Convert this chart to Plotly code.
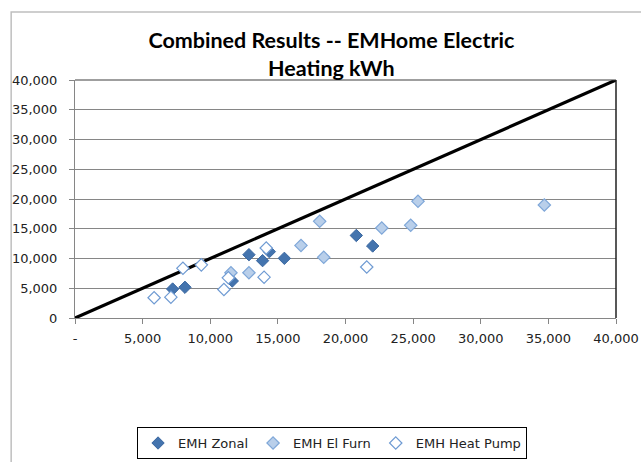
import plotly.graph_objects as go

# Data (kWh)
zonal_x = [7220, 8130, 11630, 12860, 13870, 14370, 15480, 20800, 22010]
zonal_y = [4870, 5160, 6220, 10640, 9640, 11150, 10030, 13870, 12100]

furn_x = [11530, 12860, 16710, 18090, 18390, 22680, 24820, 25360, 34700]
furn_y = [7600, 7600, 12200, 16250, 10200, 15130, 15580, 19610, 18990]

hp_x = [5850, 7090, 7980, 9340, 11010, 11340, 13980, 14140, 21570]
hp_y = [3400, 3500, 8350, 8930, 4790, 6750, 6860, 11770, 8570]

line_x = [0, 40000]
line_y = [0, 40000]

x_ticks = [0, 5000, 10000, 15000, 20000, 25000, 30000, 35000, 40000]
x_tick_text = ["-", "5,000", "10,000", "15,000", "20,000", "25,000", "30,000", "35,000", "40,000"]
y_ticks = [0, 5000, 10000, 15000, 20000, 25000, 30000, 35000, 40000]
y_tick_text = ["0", "5,000", "10,000", "15,000", "20,000", "25,000", "30,000", "35,000", "40,000"]

fig = go.Figure()

fig.add_trace(go.Scatter(x=line_x, y=line_y, mode="lines",
                         line=dict(color="black", width=3.2),
                         showlegend=False, hoverinfo="skip"))

fig.add_trace(go.Scatter(x=zonal_x, y=zonal_y, mode="markers", name="EMH Zonal",
                         marker=dict(symbol="diamond", size=9.5, color="#4474ae",
                                     line=dict(color="#3a67a0", width=1))))
fig.add_trace(go.Scatter(x=furn_x, y=furn_y, mode="markers", name="EMH El Furn",
                         marker=dict(symbol="diamond", size=9.5, color="#b9cfea",
                                     line=dict(color="#7fa7d8", width=1.2))))
fig.add_trace(go.Scatter(x=hp_x, y=hp_y, mode="markers", name="EMH Heat Pump",
                         marker=dict(symbol="diamond", size=9.5, color="white",
                                     line=dict(color="#6f9bd3", width=1.2))))

fig.update_layout(
    width=641, height=462,
    margin=dict(l=75, r=25, t=80, b=144, autoexpand=False),
    paper_bgcolor="white", plot_bgcolor="white",
    title=dict(text="<b>Combined Results -- EMHome Electric<br>Heating kWh</b>",
               x=0.517, xanchor="center", y=0.897, yanchor="top",
               font=dict(family="Lato", size=21.5, color="black")),
    font=dict(family="DejaVu Sans", size=13, color="#222"),
    legend=dict(orientation="h", xref="container", yref="container",
                x=0.518, xanchor="center", y=0.041, yanchor="middle",
                bordercolor="black", borderwidth=1, bgcolor="white",
                font=dict(family="DejaVu Sans", size=13, color="#222"),
                tracegroupgap=0),
    shapes=[
        dict(type="rect", xref="paper", yref="paper", x0=-0.118, y0=-0.7, x1=1.2, y1=1.286,
             line=dict(color="#bfbfbf", width=1.5), fillcolor="rgba(0,0,0,0)", layer="below"),
        dict(type="line", xref="paper", yref="paper", x0=0, y0=1, x1=1, y1=1,
             line=dict(color="#404040", width=1.2)),
        dict(type="line", xref="paper", yref="paper", x0=1, y0=0, x1=1, y1=1,
             line=dict(color="#202020", width=1.5)),
    ],
)

fig.update_xaxes(range=[0, 40000], tickvals=x_ticks, ticktext=x_tick_text,
                 showgrid=False, zeroline=False, showline=True, linecolor="#868686",
                 linewidth=1, ticks="outside", ticklen=5, tickcolor="#868686",
                 ticklabelstandoff=3, automargin=False,
                 tickfont=dict(family="DejaVu Sans", size=13, color="#222"))
fig.update_yaxes(range=[0, 40000], tickvals=y_ticks, ticktext=y_tick_text,
                 showgrid=True, gridcolor="#868686", gridwidth=1, zeroline=False,
                 showline=True, linecolor="#868686", linewidth=1,
                 ticks="outside", ticklen=5, tickcolor="#868686",
                 ticklabelstandoff=9, automargin=False,
                 tickfont=dict(family="DejaVu Sans", size=13, color="#222"))

fig.write_html("out.html")
